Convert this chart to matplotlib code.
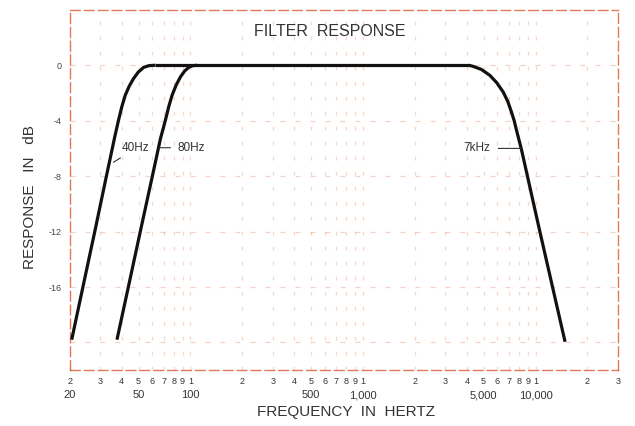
import matplotlib
matplotlib.use('Agg')
import matplotlib.pyplot as plt
import matplotlib.transforms as mtransforms

plt.rcParams['font.family'] = ['Liberation Sans', 'DejaVu Sans']

# 40 Hz high-pass skirt (Hz, dB)
low40_f = [20.5, 23.9, 28.0, 32.7, 36.6, 38.3, 40.0, 41.9, 44.2, 46.8,
           49.8, 53.6, 57.5, 62.6]
low40_db = [-19.8, -15.9, -11.9, -7.9, -5.04, -3.96, -3.0, -2.16, -1.5, -0.96,
            -0.5, -0.15, -0.03, 0.0]

# 80 Hz high-pass skirt
low80_f = [37.5, 44.0, 51.4, 60.4, 67.0, 71.6, 74.8, 78.3, 82.5, 87.5,
           92.5, 97.8, 103.0, 109.3]
low80_db = [-19.8, -15.8, -11.9, -7.9, -5.3, -3.96, -3.0, -2.16, -1.45, -0.84,
            -0.42, -0.15, -0.03, 0.0]

# flat pass band
flat_f = [62.6, 4100.0]
flat_db = [0.0, 0.0]

# 7 kHz low-pass skirt
high7k_f = [4100, 4345, 4850, 5425, 5950, 6486, 6900, 7246, 7520, 7755,
            8296, 10550, 14830]
high7k_db = [0.0, -0.08, -0.3, -0.72, -1.25, -1.92, -2.6, -3.36, -4.0, -4.68,
             -6.1, -11.9, -19.95]

# axis ticks
tick_freqs = [20, 30, 40, 50, 60, 70, 80, 90, 100,
              200, 300, 400, 500, 600, 700, 800, 900, 1000,
              2000, 3000, 4000, 5000, 6000, 7000, 8000, 9000, 10000,
              20000, 30000]
tick_digits = [str(f)[0] for f in tick_freqs]
value_freqs = [20, 50, 100, 500, 1000, 5000, 10000]
value_labels = ['20', '50', '100', '500', '1,000', '5,000', '10,000']
db_ticks = [0, -4, -8, -12, -16]
db_grid = [0, -4, -8, -12, -16, -20]

fig = plt.figure(figsize=(6.35, 4.26), dpi=100)
ax = fig.add_axes([0.110, 0.131, 0.863, 0.846])
ax.set_xscale('log')
ax.set_xlim(20, 30000)
ax.set_ylim(-22, 4)

grid_col = '#e0703c'
for f in tick_freqs:
    ax.axvline(f, color=grid_col, lw=0.9, alpha=0.28, ls=(0, (3, 9)), zorder=1)
for d in db_grid:
    ax.axhline(d, color=grid_col, lw=0.9, alpha=0.3, ls=(0, (4, 8)), zorder=1)

line_kw = dict(color='#111111', lw=2.3, solid_capstyle='butt',
               solid_joinstyle='round', zorder=3)
ax.plot(low40_f, low40_db, **line_kw)
ax.plot(low80_f, low80_db, **line_kw)
ax.plot(flat_f, flat_db, **line_kw)
ax.plot(high7k_f, high7k_db, **line_kw)

for s in ax.spines.values():
    s.set_color('#d85a32')
    s.set_linestyle((0, (7, 3)))
    s.set_linewidth(1.0)
    s.set_alpha(0.8)

ax.set_xticks(tick_freqs)
ax.set_xticklabels(tick_digits, fontsize=6.5, color='#333333')
ax.xaxis.set_minor_locator(matplotlib.ticker.NullLocator())
ax.tick_params(axis='x', length=0, pad=5)
ax.set_yticks(db_ticks)
ax.set_yticklabels([str(d) for d in db_ticks], fontsize=6.5, color='#444444')
ax.tick_params(axis='y', length=0, pad=6)

trans = mtransforms.blended_transform_factory(ax.transData, ax.transAxes)
for f, lab in zip(value_freqs, value_labels):
    ax.text(f, -0.07, lab, transform=trans, ha='center', va='center',
            fontsize=8, color='#333333')

ax.text(0.474, 0.939, 'FILTER  RESPONSE', transform=ax.transAxes,
        ha='center', va='center', fontsize=11.5, color='#333333')
fig.text(0.545, 0.033, 'FREQUENCY  IN  HERTZ', ha='center', va='center',
         fontsize=11, color='#333333')
fig.text(0.047, 0.537, 'RESPONSE   IN   dB', ha='center', va='center',
         rotation=90, fontsize=11, color='#333333')

ann_kw = dict(fontsize=8.5, color='#333333', va='center')
ax.annotate('40Hz', xy=(35.8, -7.0), xytext=(40.0, -6.0), ha='left',
            arrowprops=dict(arrowstyle='-', lw=0.8, color='#333333',
                            shrinkA=1, shrinkB=0), **ann_kw)
ax.annotate('80Hz', xy=(66.0, -5.95), xytext=(84, -5.95), ha='left',
            arrowprops=dict(arrowstyle='-', lw=0.8, color='#333333',
                            shrinkA=3, shrinkB=0), **ann_kw)
ax.annotate('7kHz', xy=(8250, -6.0), xytext=(3800, -6.0), ha='left',
            arrowprops=dict(arrowstyle='-', lw=0.8, color='#333333',
                            shrinkA=4, shrinkB=0), **ann_kw)

fig.savefig('out.png', dpi=100, facecolor='white')
